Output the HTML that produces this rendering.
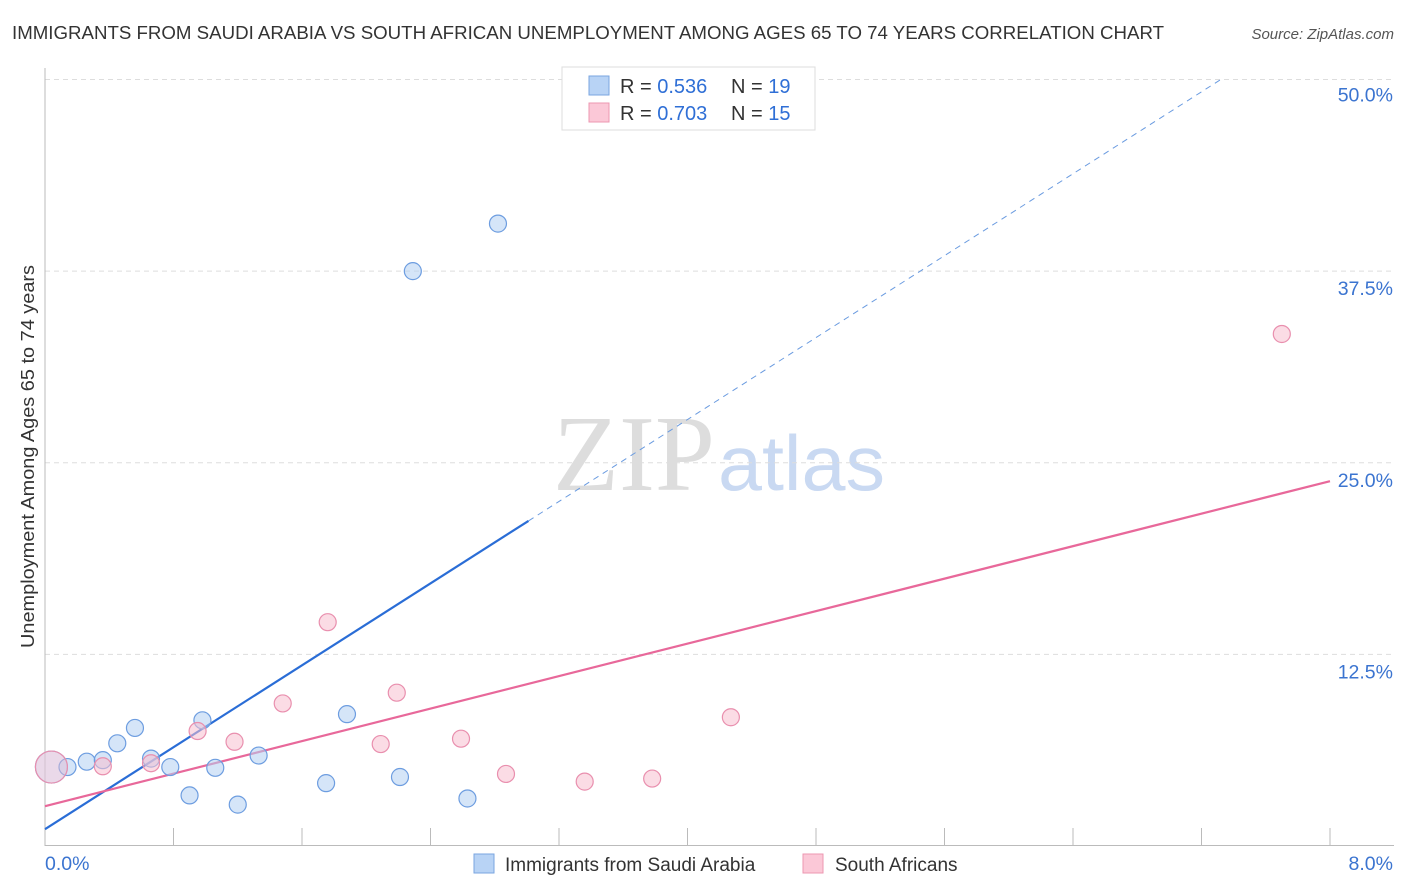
<!DOCTYPE html>
<html><head><meta charset="utf-8">
<style>
body{margin:0;background:#fff;font-family:"Liberation Sans",sans-serif;}
#wrap{position:relative;width:1406px;height:892px;overflow:hidden}
</style></head>
<body>
<div id="wrap">
<svg id="svg" width="1406" height="892" xmlns="http://www.w3.org/2000/svg">
<text x="12" y="39" font-size="18" fill="#333" textLength="1152" lengthAdjust="spacingAndGlyphs">IMMIGRANTS FROM SAUDI ARABIA VS SOUTH AFRICAN UNEMPLOYMENT AMONG AGES 65 TO 74 YEARS CORRELATION CHART</text>
<text x="1394" y="39" font-size="15" fill="#555" font-style="italic" text-anchor="end">Source: ZipAtlas.com</text>
<text transform="translate(34,648) rotate(-90)" font-size="18" fill="#333" textLength="383" lengthAdjust="spacingAndGlyphs">Unemployment Among Ages 65 to 74 years</text>
<text x="553" y="490" font-size="108" fill="#ddd" font-family="Liberation Serif,serif" textLength="162" lengthAdjust="spacingAndGlyphs">ZIP</text>
<text x="718" y="490" font-size="78" fill="#c9d9f2" textLength="167" lengthAdjust="spacingAndGlyphs">atlas</text>
<g id="grid"></g><g id="lines"></g><g id="pts"></g>
<g>
<rect x="562" y="67" width="253" height="63" fill="#fff" stroke="#ddd"/>
<rect x="589" y="76" width="20" height="19" fill="#b8d3f5" stroke="#7aa6e0"/>
<rect x="589" y="103" width="20" height="19" fill="#fbc8d7" stroke="#ec97b1"/>
<g font-size="20" fill="#333">
<text x="620" y="93">R = <tspan fill="#2f6fd6">0.536</tspan></text>
<text x="731" y="93">N = <tspan fill="#2f6fd6">19</tspan></text>
<text x="620" y="120">R = <tspan fill="#2f6fd6">0.703</tspan></text>
<text x="731" y="120">N = <tspan fill="#2f6fd6">15</tspan></text>
</g>
</g>
<g>
<rect x="474" y="854" width="20" height="19" fill="#b8d3f5" stroke="#7aa6e0"/>
<text x="505" y="871" font-size="19" fill="#333">Immigrants from Saudi Arabia</text>
<rect x="803" y="854" width="20" height="19" fill="#fbc8d7" stroke="#ec97b1"/>
<text x="835" y="871" font-size="19" fill="#333">South Africans</text>
</g>
</svg>
</div>
<script>
const xTicksVals=[0,0.8,1.6,2.4,3.2,4.0,4.8,5.6,6.4,7.2,8.0];
const yTicks=[12.5,25,37.5,50];
const yTickLabels=["12.5%","25.0%","37.5%","50.0%"];
const xEndLabels=["0.0%","8.0%"];
const blueX=[0.04,0.14,0.26,0.36,0.45,0.56,0.66,0.78,0.90,0.98,1.06,1.20,1.33,1.75,1.88,2.21,2.29,2.63,2.82];
const blueY=[5.15,5.15,5.5,5.6,6.7,7.7,5.7,5.15,3.3,8.2,5.1,2.7,5.9,4.1,8.6,4.5,37.5,3.1,40.6];
const pinkX=[0.04,0.36,0.66,0.95,1.18,1.48,1.76,2.09,2.19,2.59,2.87,3.36,3.78,4.27,7.70];
const pinkY=[5.15,5.2,5.4,7.5,6.8,9.3,14.6,6.65,10.0,7.0,4.7,4.2,4.4,8.4,33.4];
const blueFit=[1.1,6.68]; // intercept, slope
const pinkFit=[2.6,2.65];
const blueSolidEnd=3.01;

const X=v=>45+v/8*1285, Y=v=>846-v*15.33;
const NS="http://www.w3.org/2000/svg";
function mk(p,t,a){const e=document.createElementNS(NS,t);for(const k in a)e.setAttribute(k,a[k]);p.appendChild(e);return e;}
const grid=document.getElementById('grid'),lines=document.getElementById('lines'),pts=document.getElementById('pts');
yTicks.forEach((t,i)=>{
 const l=mk(grid,'line',{x1:45,x2:1394,y1:Y(t),y2:Y(t),stroke:'#ddd','stroke-dasharray':'5,4'});
 
 
 const tx=mk(grid,'text',{x:1393,y:Y(t)+24-(i==3?2:0),'font-size':19.5,fill:'#3b74d0','text-anchor':'end'});
 tx.textContent=yTickLabels[i];
 
 
});
mk(grid,'line',{x1:45,x2:45,y1:68,y2:846,stroke:'#bbb'});
mk(grid,'line',{x1:45,x2:1394,y1:845.5,y2:845.5,stroke:'#bbb'});
xTicksVals.forEach(v=>{const l=mk(grid,'line',{x1:X(v),x2:X(v),y1:828,y2:846,stroke:'#bbb'});
 
 });
[[0,'start',45],[8,'end',1393]].forEach((d,i)=>{const t=mk(grid,'text',{x:d[2],y:870,'font-size':19.5,fill:'#3b74d0','text-anchor':d[1]});t.textContent=xEndLabels[i];
 
 });
const bEnd=(50-blueFit[0])/blueFit[1]+0.02;
let l=mk(lines,'line',{x1:X(0),y1:Y(blueFit[0]),x2:X(blueSolidEnd),y2:Y(blueFit[0]+blueFit[1]*blueSolidEnd),stroke:'#2a6dd6','stroke-width':2.2});


l=mk(lines,'line',{x1:X(blueSolidEnd),y1:Y(blueFit[0]+blueFit[1]*blueSolidEnd),x2:X(bEnd),y2:Y(blueFit[0]+blueFit[1]*bEnd),stroke:'#6a9be0','stroke-width':1,'stroke-dasharray':'6,5'});


l=mk(lines,'line',{x1:X(0),y1:Y(pinkFit[0]),x2:X(8),y2:Y(pinkFit[0]+pinkFit[1]*8),stroke:'#e8689a','stroke-width':2.2});


function dots(xs,ys,fill,stroke,name){xs.forEach((x,i)=>{
 const c=mk(pts,'circle',{cx:X(x),cy:Y(ys[i]),r:i==0?16:8.5,fill:fill,'fill-opacity':i==0?0.4:0.55,stroke:stroke,'stroke-width':1.2});
 
 
});}
dots(blueX,blueY,'#b3cff3','#6d9de0','saudi-point');
dots(pinkX,pinkY,'#f8bfd0','#e98fae','south-african-point');
</script>
</body></html>
